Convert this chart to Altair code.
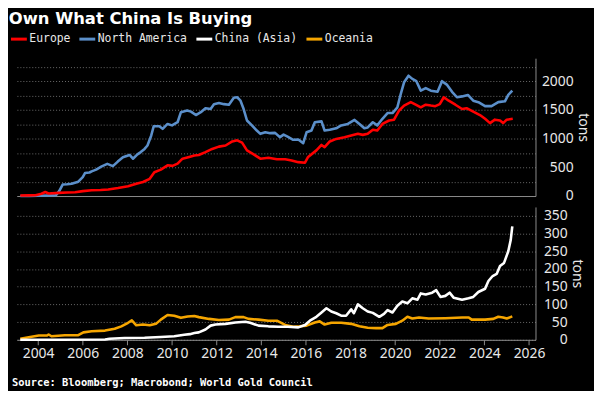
import altair as alt
import pandas as pd

TITLE = "Own What China Is Buying"
SOURCE = "Source: Bloomberg; Macrobond; World Gold Council"
series_names = ["Europe", "North America", "China (Asia)", "Oceania"]
series_colors = ["#ff0000", "#5b8fca", "#ffffff", "#f5a500"]

na_t = [2003.2, 2003.6, 2004.0, 2004.5, 2004.8, 2004.95, 2005.1, 2005.3, 2005.5, 2005.8, 2006.0, 2006.1, 2006.3,
        2006.4, 2006.6, 2006.85, 2007.1, 2007.35, 2007.57, 2007.8, 2008.1, 2008.25, 2008.45, 2008.6, 2008.77,
        2008.9, 2009.07, 2009.18, 2009.43, 2009.58, 2009.8, 2010.0, 2010.25, 2010.4, 2010.68, 2010.85, 2011.07,
        2011.29, 2011.5, 2011.73, 2011.88, 2012.1, 2012.33, 2012.55, 2012.77, 2012.92, 2013.07, 2013.21, 2013.36,
        2013.58, 2013.8, 2013.96, 2014.18, 2014.4, 2014.62, 2014.84, 2015.0, 2015.2, 2015.43, 2015.66, 2015.88,
        2016.03, 2016.25, 2016.4, 2016.7, 2016.84, 2017.07, 2017.36, 2017.58, 2017.88, 2018.18, 2018.4, 2018.62,
        2018.77, 2019.0, 2019.2, 2019.43, 2019.66, 2019.88, 2020.1, 2020.25, 2020.4, 2020.6, 2020.77, 2020.95,
        2021.15, 2021.37, 2021.6, 2021.9, 2022.1, 2022.33, 2022.55, 2022.77, 2023.0, 2023.26, 2023.5, 2023.73,
        2024.03, 2024.32, 2024.62, 2024.92, 2025.07, 2025.25]
na_v = [0, 0, 5, 10, 15, 90, 200, 205, 215, 250, 330, 400, 410,
        430, 460, 515, 560, 520, 600, 675, 715, 650, 725, 765, 820,
        880, 1055, 1215, 1215, 1170, 1255, 1230, 1285, 1460, 1490, 1470, 1410,
        1460, 1530, 1515, 1600, 1620, 1600, 1590, 1710, 1720, 1660, 1515, 1315,
        1230, 1140, 1083, 1110, 1095, 1100, 1025, 1070, 1030, 980, 985, 920,
        1110, 1140, 1285, 1300, 1140, 1155, 1180, 1230, 1255, 1325, 1255, 1180,
        1195, 1285, 1230, 1345, 1445, 1445, 1545, 1775, 1980, 2095, 2040, 2000,
        1835, 1880, 1835, 1815, 2000, 1935, 1815, 1720, 1735, 1760, 1660, 1635,
        1565, 1565, 1635, 1650, 1760, 1835]

eu_t = [2003.2, 2003.6, 2003.88, 2004.15, 2004.32, 2004.47, 2004.92, 2005.3, 2005.66, 2006.0, 2006.4, 2006.8,
        2007.14, 2007.58, 2008.03, 2008.4, 2008.7, 2009.0, 2009.21, 2009.5, 2009.8, 2010.02, 2010.25, 2010.47,
        2010.77, 2011.0, 2011.2, 2011.5, 2011.8, 2012.1, 2012.4, 2012.7, 2012.92, 2013.14, 2013.36, 2013.66,
        2013.96, 2014.32, 2014.7, 2015.07, 2015.36, 2015.66, 2015.96, 2016.1, 2016.47, 2016.7, 2016.84, 2017.07,
        2017.36, 2017.73, 2018.03, 2018.33, 2018.55, 2018.77, 2019.0, 2019.2, 2019.43, 2019.73, 2019.95, 2020.18,
        2020.4, 2020.7, 2020.92, 2021.15, 2021.37, 2021.6, 2021.8, 2022.0, 2022.18, 2022.4, 2022.7, 2023.0,
        2023.2, 2023.5, 2023.8, 2024.03, 2024.25, 2024.47, 2024.7, 2024.84, 2025.0, 2025.27]
eu_v = [10, 12, 15, 40, 70, 45, 55, 60, 65, 85, 100, 105,
        115, 140, 170, 215, 245, 300, 415, 460, 535, 525, 565, 650,
        680, 705, 715, 765, 820, 860, 880, 950, 970, 930, 795, 725,
        650, 665, 640, 640, 620, 590, 580, 680, 795, 890, 850, 950,
        995, 1025, 1055, 1083, 1065, 1085, 1155, 1140, 1255, 1315, 1330, 1490,
        1575, 1635, 1590, 1545, 1590, 1575, 1565, 1600, 1720, 1660, 1590, 1515,
        1530, 1470, 1410, 1345, 1270, 1330, 1315, 1270, 1330, 1345]

oc_t = [2003.2, 2003.58, 2004.03, 2004.4, 2004.47, 2004.6, 2005.2, 2005.8, 2006.03, 2006.4, 2007.0, 2007.43,
        2007.73, 2008.03, 2008.2, 2008.4, 2008.7, 2009.0, 2009.28, 2009.5, 2009.8, 2010.1, 2010.4, 2010.7,
        2011.0, 2011.2, 2011.66, 2012.1, 2012.55, 2012.84, 2013.21, 2013.43, 2013.88, 2014.32, 2014.7, 2015.07,
        2015.43, 2015.73, 2016.03, 2016.4, 2016.62, 2016.84, 2017.14, 2017.58, 2018.03, 2018.4, 2018.77, 2019.14,
        2019.43, 2019.66, 2020.03, 2020.32, 2020.55, 2020.77, 2021.07, 2021.5, 2022.25, 2023.0, 2023.3, 2023.43,
        2024.03, 2024.4, 2024.62, 2024.84, 2025.0, 2025.25]
oc_v = [3, 7, 12, 12, 15, 10, 13, 13, 21, 24, 26, 31,
        38, 48, 55, 41, 43, 41, 45, 57, 70, 68, 62, 66,
        67, 64, 59, 56, 57, 64, 64, 59, 57, 54, 54, 42,
        37, 38, 40, 49, 52, 43, 48, 48, 45, 38, 34, 33,
        33, 42, 45, 54, 65, 60, 63, 60, 61, 63, 63, 57,
        57, 59, 65, 63, 60, 66]

cn_t = [2003.2, 2005.0, 2007.0, 2007.2, 2007.88, 2008.77, 2009.5, 2010.1, 2010.55, 2010.8, 2011.0, 2011.2,
        2011.5, 2011.73, 2011.95, 2012.4, 2012.84, 2013.29, 2013.5, 2013.88, 2014.32, 2014.77, 2015.2, 2015.66,
        2015.96, 2016.18, 2016.47, 2016.7, 2016.92, 2017.14, 2017.36, 2017.58, 2017.8, 2018.03, 2018.15, 2018.33,
        2018.55, 2018.77, 2019.0, 2019.29, 2019.5, 2019.66, 2019.88, 2020.1, 2020.32, 2020.55, 2020.77, 2021.0,
        2021.15, 2021.37, 2021.66, 2021.84, 2022.03, 2022.25, 2022.44, 2022.62, 2023.0, 2023.29, 2023.5, 2023.73,
        2024.03, 2024.18, 2024.37, 2024.55, 2024.7, 2024.88, 2025.07, 2025.18, 2025.25]
cn_v = [0, 0, 1, 3, 5, 6, 8, 10, 14, 16, 19, 21,
        29, 40, 43, 45, 49, 51, 48, 40, 38, 37, 37, 35,
        42, 54, 65, 77, 89, 80, 75, 68, 68, 86, 75, 100,
        89, 80, 76, 65, 73, 84, 77, 96, 108, 103, 117, 113,
        131, 128, 133, 140, 121, 124, 133, 119, 113, 117, 121, 135,
        144, 166, 180, 186, 208, 217, 250, 282, 320]

year_ticks = list(range(2004, 2027, 2))
top_ticks = list(range(0, 2251, 250))
bot_ticks = list(range(0, 351, 50))


def frame(name, t, v):
    return pd.DataFrame({"year": t, "tons": v, "series": name})


LABEL_FONT = "Noto Sans"
AX = "#8c8c8c"
TXT = "#e8e8e8"

xscale = alt.Scale(domain=[2003.05, 2026.29], nice=False, zero=False)
color = alt.Color(
    "series:N",
    scale=alt.Scale(domain=series_names, range=series_colors),
    legend=alt.Legend(
        orient="none", legendX=-7.5, legendY=-29, direction="horizontal", columns=4,
        title=None, symbolType="stroke", symbolSize=256, symbolStrokeWidth=3,
        labelFont="DejaVu Sans Mono", labelFontSize=11.5, labelColor=TXT,
        labelOffset=1, columnPadding=2, padding=0,
    ),
)


def yaxis(values, pad, expr=None):
    kw = dict(
        orient="right", values=values, ticks=False, tickSize=0, labelAlign="right",
        labelPadding=pad, title="tons", titlePadding=2, grid=True, gridDash=[1, 2],
        gridColor="#6a6a6a", domainColor=AX, labelColor=TXT, labelFont=LABEL_FONT,
        labelFontSize=14, titleFont=LABEL_FONT, titleFontSize=14, titleFontWeight="normal",
        titleColor=TXT, format="d",
    )
    if expr:
        kw["labelExpr"] = expr
    return alt.Axis(**kw)


def line(df, x_axis, y_scale, y_axis):
    return alt.Chart(df).mark_line(strokeWidth=2.6, strokeJoin="round").encode(
        x=alt.X("year:Q", scale=xscale, axis=x_axis),
        y=alt.Y("tons:Q", scale=y_scale, axis=y_axis),
        color=color,
    )


top_x_axis = alt.Axis(labels=False, ticks=False, grid=False, title=None, domainColor=AX)
top_y_scale = alt.Scale(domain=[0, 2400], nice=False)
top_y_axis = yaxis(top_ticks, 38, "datum.value % 500 == 0 ? datum.label : ''")

title_layer = alt.Chart(pd.DataFrame({"t": [TITLE]})).mark_text(
    align="left", baseline="top", font="DejaVu Sans", fontWeight="bold", fontSize=16.5, color="white"
).encode(text="t:N", x=alt.value(-8.2), y=alt.value(-48))

top = alt.layer(
    line(frame("North America", na_t, na_v), top_x_axis, top_y_scale, top_y_axis),
    line(frame("Europe", eu_t, eu_v), top_x_axis, top_y_scale, top_y_axis),
    title_layer,
).properties(width=523, height=139)

bot_x_axis = alt.Axis(values=year_ticks, format="d", grid=False, ticks=True, tickSize=5, tickColor=AX,
                      domainColor=AX, labelColor=TXT, labelFont=LABEL_FONT, labelFontSize=14,
                      labelPadding=2, title=None)
bot_y_scale = alt.Scale(domain=[0, 375], nice=False)
bot_y_axis = yaxis(bot_ticks, 32)

source_layer = alt.Chart(pd.DataFrame({"t": [SOURCE]})).mark_text(
    align="left", baseline="middle", font="DejaVu Sans Mono", fontWeight="bold", fontSize=10.5, color="white"
).encode(text="t:N", x=alt.value(-5), y=alt.value(178))

bottom = alt.layer(
    line(frame("Oceania", oc_t, oc_v), bot_x_axis, bot_y_scale, bot_y_axis),
    line(frame("China (Asia)", cn_t, cn_v), bot_x_axis, bot_y_scale, bot_y_axis),
    source_layer,
).properties(width=523, height=134)

chart = alt.vconcat(top, bottom, spacing=4).resolve_scale(
    y="independent", x="independent", color="shared"
).properties(
    background="black",
    padding={"left": 0, "top": 1, "right": 5, "bottom": 0},
).configure_view(stroke=None)

chart.save("out.html", embed_options={"renderer": "svg", "actions": False})
